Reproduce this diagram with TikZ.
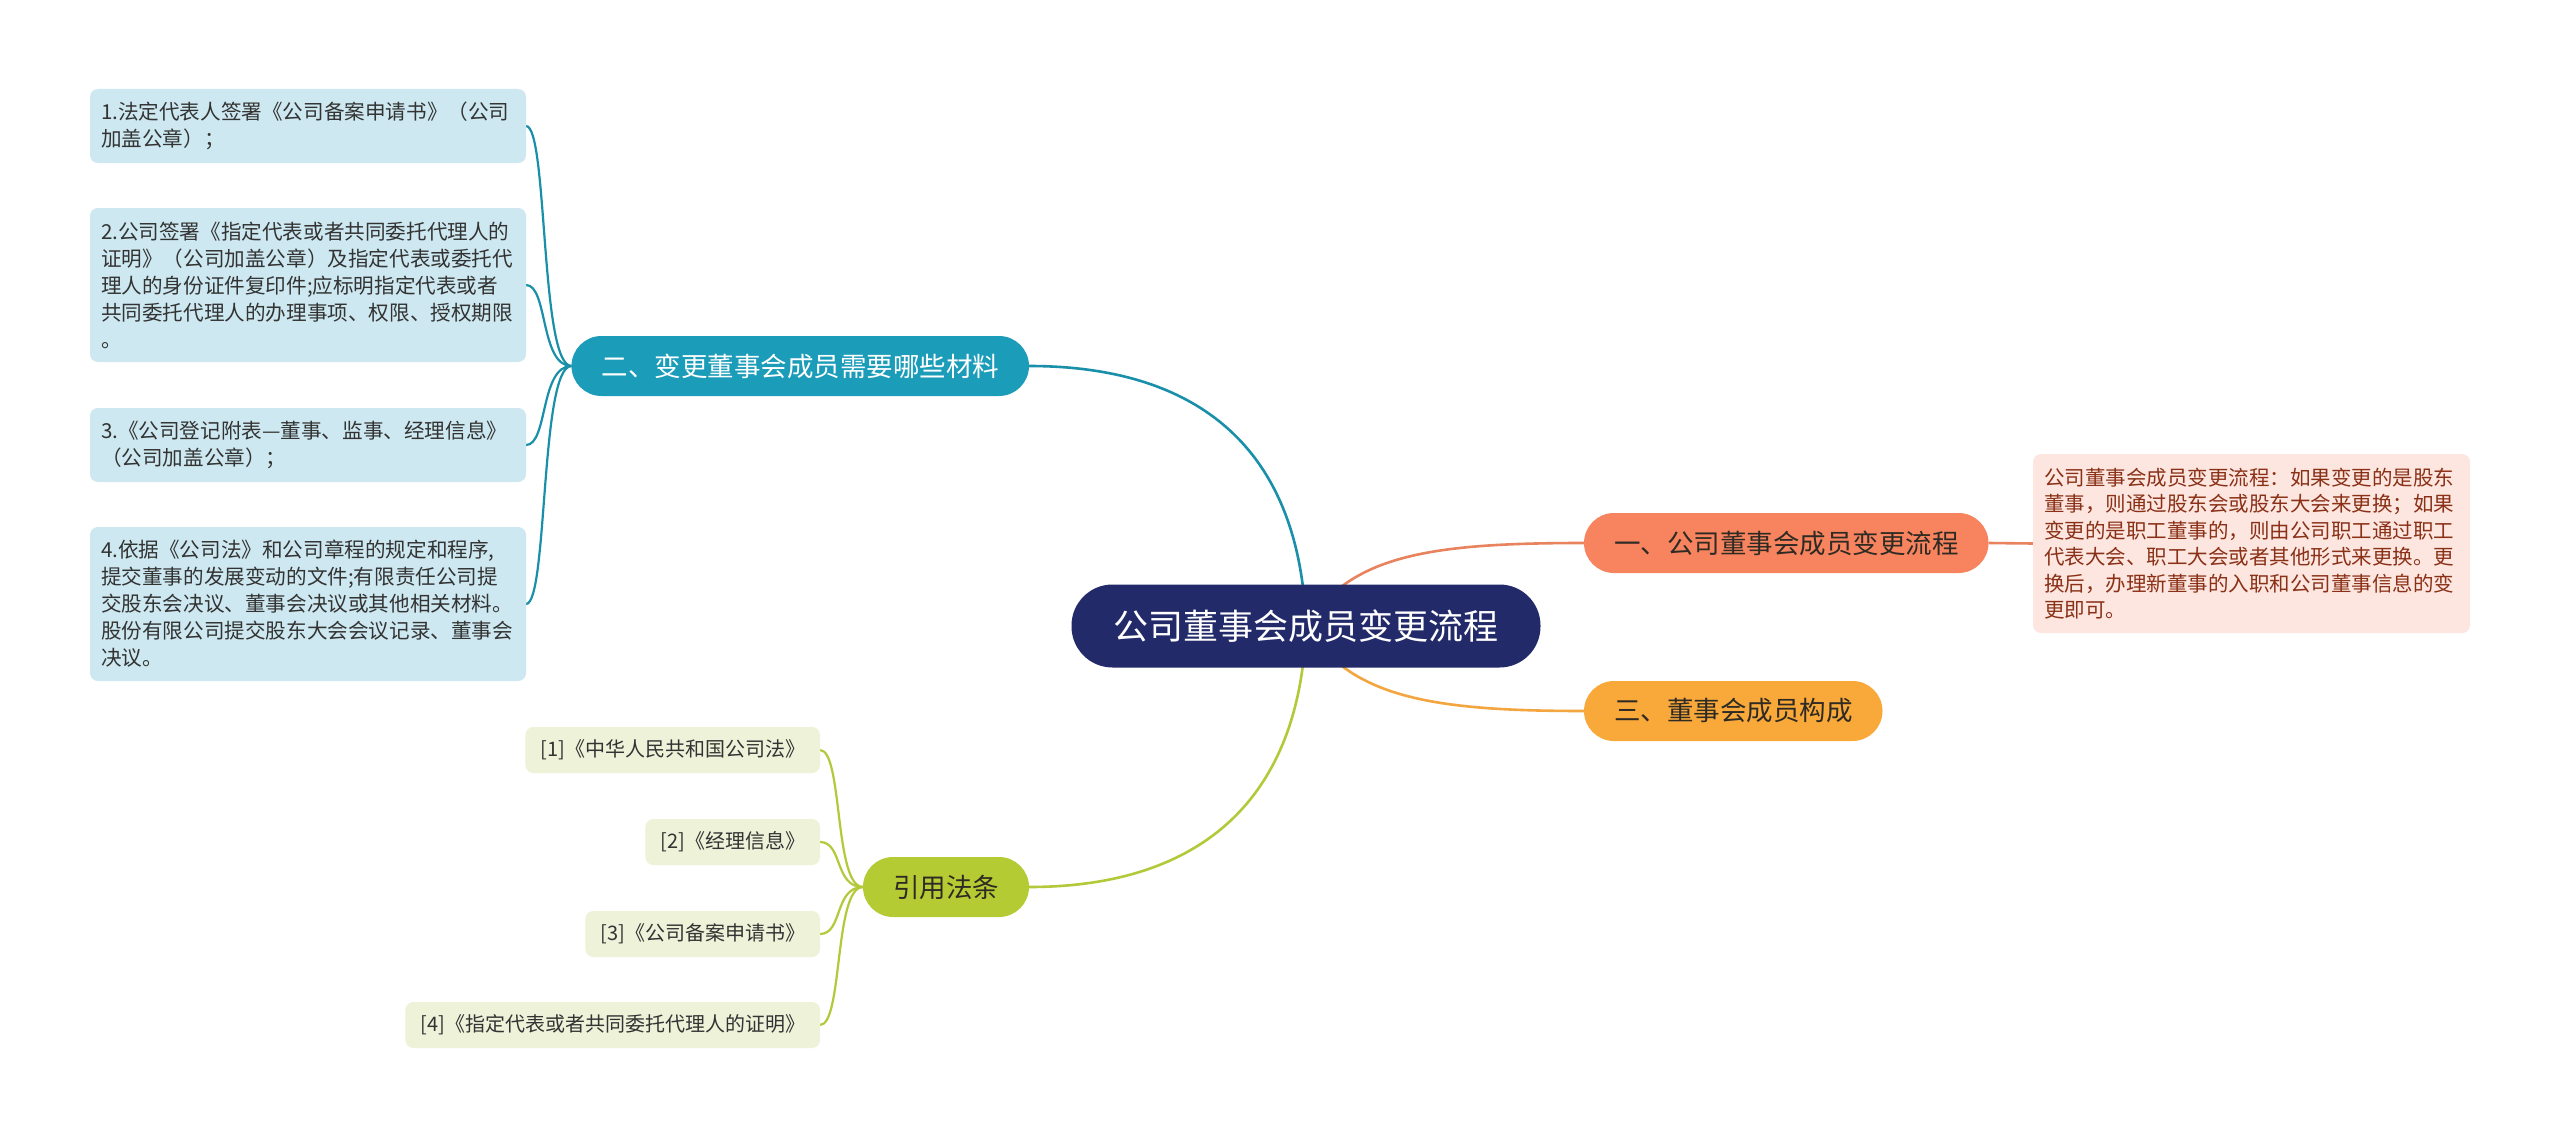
\documentclass[tikz,border=0pt]{standalone}
\usepackage{fontspec}
\setmainfont{Noto Sans CJK SC}
\usetikzlibrary{backgrounds}
\definecolor{rootc}{HTML}{232A6A}
\definecolor{tealc}{HTML}{1B9CB9}
\definecolor{teall}{HTML}{1A8FAA}
\definecolor{salc}{HTML}{F7845E}
\definecolor{sall}{HTML}{E8835E}
\definecolor{orc}{HTML}{F9A83A}
\definecolor{orl}{HTML}{F3A53F}
\definecolor{limec}{HTML}{B5CB33}
\definecolor{limel}{HTML}{B3C93A}
\definecolor{matc}{HTML}{CDE8F0}
\definecolor{lawc}{HTML}{EEF2D9}
\definecolor{notec}{HTML}{FCE6DF}
\definecolor{notet}{HTML}{8A3017}
\definecolor{txt}{HTML}{333333}
\definecolor{btxt}{HTML}{2E2A24}
\begin{document}
\begin{tikzpicture}[x=1pt,y=-1pt,
  every node/.style={inner sep=0pt, outer sep=0pt},
  rootbox/.style={fill=rootc, text=white, rounded corners=41pt, minimum height=83pt, inner xsep=42pt, font=\fontsize{35}{40}\selectfont},
  branch/.style={rounded corners=30pt, minimum height=60pt, inner xsep=30pt, font=\fontsize{26.5}{30}\selectfont},
  matbox/.style={fill=matc, text=txt, rounded corners=8pt, text width=414pt, align=left, inner xsep=11pt, font=\fontsize{20.6}{27}\selectfont, anchor=north west},
  lawbox/.style={fill=lawc, text=txt, rounded corners=8pt, minimum height=46pt, inner xsep=15pt, font=\fontsize{20}{24}\selectfont, anchor=east},
  notebox/.style={fill=notec, text=notet, rounded corners=8pt, text width=415pt, align=left, inner xsep=11pt, minimum height=179pt, font=\fontsize{20.5}{26.5}\selectfont, anchor=north west},
  main/.style={line width=2.6pt},
  sub/.style={line width=2.2pt}
]
\useasboundingbox (0,0) rectangle (2560,1140);

% root
\node[rootbox] (root) at (1306,626) {公司董事会成员变更流程};

% branches
\node[branch, fill=tealc, text=white, anchor=east] (b2) at (1029,366) {二、变更董事会成员需要哪些材料};
\node[branch, fill=salc, text=btxt, anchor=west] (b1) at (1584,543) {一、公司董事会成员变更流程};
\node[branch, fill=orc, text=btxt, anchor=west] (b3) at (1584,711) {三、董事会成员构成};
\node[branch, fill=limec, text=btxt, anchor=east] (bl) at (1029,887) {引用法条};

% note
\node[notebox] (note) at (2033,454) {公司董事会成员变更流程：如果变更的是股东\\董事，则通过股东会或股东大会来更换；如果\\变更的是职工董事的，则由公司职工通过职工\\代表大会、职工大会或者其他形式来更换。更\\换后，办理新董事的入职和公司董事信息的变\\更即可。};

% materials
\node[matbox, minimum height=74pt] (m1) at (90,89) {1.法定代表人签署《公司备案申请书》（公司\\加盖公章）；};
\node[matbox, minimum height=154pt] (m2) at (90,208) {2.公司签署《指定代表或者共同委托代理人的\\证明》（公司加盖公章）及指定代表或委托代\\理人的身份证件复印件;应标明指定代表或者\\共同委托代理人的办理事项、权限、授权期限\\。};
\node[matbox, minimum height=74pt] (m3) at (90,408) {3.《公司登记附表—董事、监事、经理信息》\\（公司加盖公章）；};
\node[matbox, minimum height=154pt] (m4) at (90,527) {4.依据《公司法》和公司章程的规定和程序,\\提交董事的发展变动的文件;有限责任公司提\\交股东会决议、董事会决议或其他相关材料。\\股份有限公司提交股东大会会议记录、董事会\\决议。};

% laws
\node[lawbox] (l1) at (820,750) {[1]《中华人民共和国公司法》};
\node[lawbox] (l2) at (820,842) {[2]《经理信息》};
\node[lawbox] (l3) at (820,934) {[3]《公司备案申请书》};
\node[lawbox] (l4) at (820,1025) {[4]《指定代表或者共同委托代理人的证明》};

\begin{scope}[on background layer]
\fill[white] (0,0) rectangle (2560,1140);
\draw[main, teall] (root.center) .. controls (1300,450) and (1200,366) .. (b2.east);
\draw[main, limel] (root.center) .. controls (1300,800) and (1200,887) .. (bl.east);
\draw[main, sall] (root.center) .. controls (1350,555) and (1430,543) .. (b1.west);
\draw[main, orl] (root.center) .. controls (1350,697) and (1430,711) .. (b3.west);
\draw[main, sall] (b1.east) -- (note.west);
\foreach \m in {m1,m2,m3,m4}
  \draw[sub, teall] (b2.west) .. controls (540,366) and (548,366 |- \m.east) .. (\m.east);
\foreach \l in {l1,l2,l3,l4}
  \draw[sub, limel] (bl.west) .. controls (834,887) and (843,887 |- \l.east) .. (\l.east);
\end{scope}
\end{tikzpicture}
\end{document}
